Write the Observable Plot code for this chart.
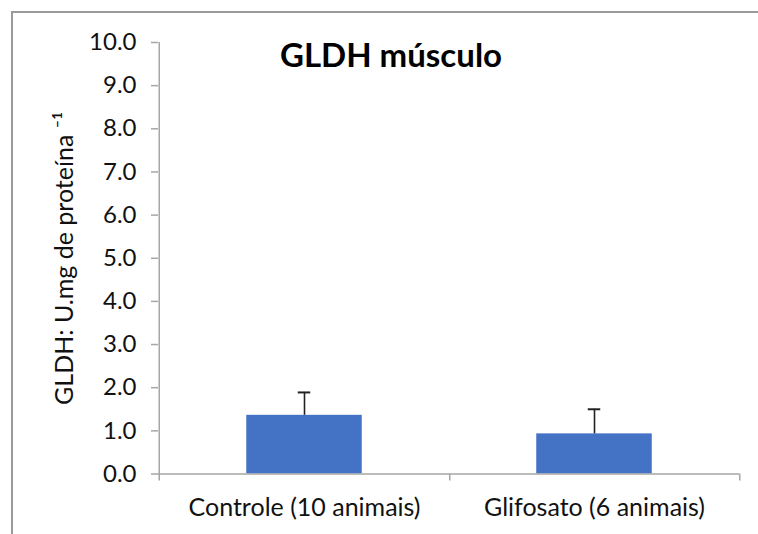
<!DOCTYPE html>
<html>
<head>
<meta charset="utf-8">
<script src="https://cdn.jsdelivr.net/npm/d3@7"></script>
<script src="https://cdn.jsdelivr.net/npm/@observablehq/plot@0.6"></script>
<style>
  html, body { margin: 0; padding: 0; background: #fff; overflow: hidden; }
  #wrap { position: relative; width: 758px; height: 534px; }
  #border { position: absolute; left: 11px; top: 11px; width: 800px; height: 600px;
            border-left: 2px solid #9a9a9a; border-top: 2px solid #9a9a9a; pointer-events: none; }
</style>
</head>
<body>
<div id="wrap"><div id="border"></div></div>
<script>
const categories = ["Controle (10 animais)", "Glifosato (6 animais)"];
const means = [1.36, 0.93];
const errors = [0.53, 0.57];
const yTicks = [0, 1, 2, 3, 4, 5, 6, 7, 8, 9, 10];
const titleText = "GLDH músculo";
const yLabelText = "GLDH: U.mg de proteína \u207B\u00B9";

const data = categories.map((c, i) => ({cat: c, value: means[i], err: errors[i]}));

const W = 758, H = 534;
const mL = 158, mR = 19, mT = 42, mB = 60.5;
const halfBand = (W - mL - mR) / categories.length / 2;
const axisGray = "#a6a6a6";
const font = "Lato, 'Open Sans', sans-serif";

const chart = Plot.plot({
  width: W,
  height: H,
  marginLeft: mL,
  marginRight: mR,
  marginTop: mT,
  marginBottom: mB,
  style: {fontFamily: font, background: "transparent", color: "#111"},
  x: {type: "band", domain: categories, padding: 0, axis: null},
  y: {domain: [0, 10], axis: null},
  marks: [
    Plot.barY(data, {x: "cat", y: "value", fill: "#4472C4", insetLeft: halfBand - 58, insetRight: halfBand - 58}),
    Plot.ruleX(data, {x: "cat", y1: "value", y2: d => d.value + d.err, stroke: "#222", strokeWidth: 1.6}),
    Plot.tickY(data, {x: "cat", y: d => d.value + d.err, stroke: "#222", strokeWidth: 2, insetLeft: halfBand - 6.5, insetRight: halfBand - 6.5}),
    Plot.ruleY([0], {stroke: axisGray, strokeWidth: 1.5}),
    Plot.ruleX([categories[0]], {x: d => d, dx: -halfBand, y1: 10, y2: 0, insetBottom: -7, stroke: axisGray, strokeWidth: 1.5}),
    Plot.ruleX(categories, {x: d => d, dx: halfBand, y1: 0, y2: 0, insetBottom: -7, stroke: axisGray, strokeWidth: 1.5}),
    Plot.axisY({ticks: yTicks, tickFormat: d3.format(".1f"), tickSize: 7, tickPadding: 15, fontSize: 24, label: null, stroke: axisGray, strokeWidth: 1.5, fill: "#111"}),
    Plot.axisX({tickSize: 0, tickPadding: 24, fontSize: 25, label: null, fill: "#111"}),
    Plot.text([yLabelText], {text: d => d, frameAnchor: "left", textAnchor: "middle", lineAnchor: "middle", rotate: -90, dx: -94, fontSize: 25, fill: "#111"}),
    Plot.text([titleText], {text: d => d, frameAnchor: "top", lineAnchor: "top", dx: -58, dy: 1, fontSize: 33, fontWeight: "bold", fill: "#000"})
  ]
});
document.getElementById("wrap").prepend(chart);
</script>
</body>
</html>
